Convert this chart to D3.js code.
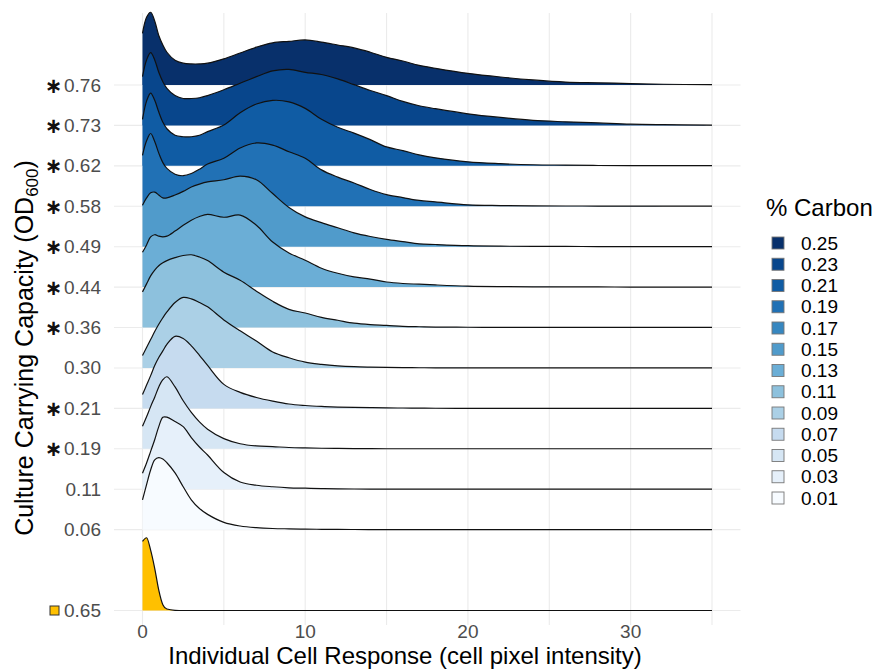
<!DOCTYPE html>
<html><head><meta charset="utf-8">
<script src="https://cdn.jsdelivr.net/npm/d3@7"></script>
<style>
body{margin:0;background:#fff}
svg{display:block}
text{font-family:"Liberation Sans",Arial,Helvetica,sans-serif}
</style>
</head><body>
<svg id="chart" width="878" height="670"></svg>
<script>
// ---------------- DATA ----------------
// sample positions of the density curves (cell pixel intensity)
const xGrid = [0,0.25,0.5,0.75,1,1.25,1.5,2,2.5,3,3.5,4,5,6,7,8,9,10,11,12,13,14,15,16,17,18,20,22,24,26,28,30,32,35];

// y categories, top to bottom ("" = empty slot)
const categories = ["0.76","0.73","0.62","0.58","0.49","0.44","0.36","0.30","0.21","0.19","0.11","0.06","","0.65"];
const significant = ["0.76","0.73","0.62","0.58","0.49","0.44","0.36","0.21","0.19"];
const controlCategory = "0.65";

// % carbon of each blue ridge (same order as categories)
const ridgeCarbon = ["0.25","0.23","0.21","0.19","0.15","0.13","0.11","0.09","0.07","0.05","0.03","0.01"];
const carbonLevels = ["0.25","0.23","0.21","0.19","0.17","0.15","0.13","0.11","0.09","0.07","0.05","0.03","0.01"];

// scaled densities (max = 1)
const d076 = [.71,.93,1.0,.88,.68,.55,.45,.34,.30,.29,.29,.30,.36,.44,.52,.58,.60,.62,.59,.55,.51,.45,.38,.33,.27,.23,.16,.11,.07,.04,.03,.02,.01,.004];
const d073 = [.67,.90,1.0,.90,.73,.60,.51,.41,.37,.37,.38,.41,.49,.58,.67,.75,.77,.73,.70,.64,.56,.48,.41,.33,.27,.23,.16,.11,.07,.05,.034,.017,.01,.004];
const d062 = [.64,.89,1.0,.90,.74,.60,.51,.42,.40,.40,.42,.47,.56,.73,.85,.90,.88,.79,.64,.53,.45,.36,.26,.21,.15,.11,.055,.03,.015,.01,.005,.004,.003,.002];
const d058 = [.70,.90,1.0,.89,.73,.60,.52,.44,.42,.45,.51,.58,.66,.80,.87,.84,.75,.66,.50,.40,.32,.23,.16,.12,.08,.06,.02,.01,.005,.004,.003,.002,.001,.001];
const d049 = [.57,.67,.74,.75,.71,.67,.67,.71,.76,.82,.86,.89,.92,.97,.92,.73,.54,.41,.33,.26,.19,.14,.10,.07,.04,.03,.014,.007,.004,.003,.002,.001,.001,.001];
const d044 = [.48,.58,.69,.72,.70,.69,.70,.77,.85,.92,.97,1.0,.96,.99,.85,.62,.47,.37,.26,.19,.14,.11,.07,.05,.04,.03,.014,.007,.004,.003,.002,.001,.001,.001];
const d036 = [.49,.60,.71,.79,.85,.89,.92,.96,.99,1.0,.97,.92,.76,.65,.50,.36,.25,.20,.14,.10,.06,.04,.03,.017,.011,.007,.004,.002,.001,.001,.001,.001,.001,.001];
const d030 = [.17,.28,.39,.50,.60,.69,.77,.90,.97,.95,.90,.84,.66,.51,.37,.22,.14,.08,.05,.03,.018,.012,.008,.005,.003,.002,.001,.001,.001,.001,.001,.001,.001,.001];
const d021 = [.19,.32,.45,.59,.70,.79,.88,.99,.96,.86,.73,.59,.33,.22,.15,.10,.06,.04,.027,.018,.013,.01,.007,.005,.003,.002,.001,.001,.001,.001,.001,.001,.001,.001];
const d019 = [.31,.44,.58,.71,.85,.95,.99,.85,.66,.50,.37,.27,.14,.07,.04,.03,.018,.012,.008,.005,.003,.002,.001,.001,.001,.001,.001,.001,.001,.001,.001,.001,.001,.001];
const d011 = [.22,.36,.52,.68,.86,.99,.99,.93,.86,.71,.58,.47,.23,.10,.055,.034,.02,.014,.008,.005,.003,.002,.001,.001,.001,.001,.001,.001,.001,.001,.001,.001,.001,.001];
const d006 = [.41,.62,.82,.96,.99,.97,.92,.78,.59,.41,.29,.21,.10,.05,.027,.016,.011,.007,.005,.003,.002,.001,.001,.001,.001,.001,.001,.001,.001,.001,.001,.001,.001,.001];
const d065 = [.95,1.0,.83,.58,.28,.08,.02,.003,0,0,0,0,0,0,0,0,0,0,0,0,0,0,0,0,0,0,0,0,0,0,0,0,0,0];

const ridgeDensities = [d076,d073,d062,d058,d049,d044,d036,d030,d021,d019,d011,d006];
const xTicks = [0,10,20,30];
const xMinor = [5,15,25,35];

// ---------------- CHART ----------------
const svg = d3.select("#chart");
const x = d3.scaleLinear().domain([0,35]).range([142.5,712]);
const y = d3.scalePoint().domain(categories).range([85,610.5]);
const step = y.step();
const h = d3.scaleLinear().domain([0,1]).range([0,1.8*step]);

const panelX0 = x(-1.75), panelX1 = x(36.75);
const panelY0 = 13, panelY1 = 625;

const blues = d3.piecewise(d3.interpolateRgb, d3.schemeBlues[9]);
const carbonColor = d3.scaleOrdinal()
  .domain(carbonLevels)
  .range(carbonLevels.map((c,i)=>blues((carbonLevels.length-1-i)/(carbonLevels.length-1))));
const controlColor = "#ffc000";

// grid
const grid = svg.append("g");
grid.selectAll("line.v").data(xTicks.concat(xMinor)).join("line")
  .attr("x1",d=>x(d)).attr("x2",d=>x(d))
  .attr("y1",panelY0).attr("y2",panelY1)
  .attr("stroke","#ebebeb").attr("stroke-width",1.1);
grid.selectAll("line.h").data(categories.filter(c=>c!=="")).join("line")
  .attr("x1",panelX0).attr("x2",panelX1)
  .attr("y1",d=>y(d)).attr("y2",d=>y(d))
  .attr("stroke","#ebebeb").attr("stroke-width",1.1);

// ridges
const ridges = categories.filter(c=>c!=="").map(c=>{
  const i = categories.indexOf(c);
  const dens = c===controlCategory ? d065 : ridgeDensities[i];
  const fill = c===controlCategory ? controlColor : carbonColor(ridgeCarbon[i]);
  return {cat:c, fill, pts: xGrid.map((xv,k)=>[xv,dens[k]])};
});

const curve = d3.curveCatmullRom.alpha(0.5);
const g = svg.append("g");
ridges.forEach(r=>{
  const base = y(r.cat);
  const cv = r.cat===controlCategory ? d3.curveMonotoneX : curve;
  const area = d3.area().curve(cv)
    .x(d=>x(d[0])).y0(base).y1(d=>base-h(d[1]));
  const line = d3.line().curve(cv)
    .x(d=>x(d[0])).y(d=>base-h(d[1]));
  g.append("path").attr("d",area(r.pts)).attr("fill",r.fill).attr("stroke","none");
  g.append("path").attr("d",line(r.pts)).attr("fill","none")
    .attr("stroke","#111").attr("stroke-width",1.2);
});

// x axis labels
svg.append("g").selectAll("text").data(xTicks).join("text")
  .attr("x",d=>x(d)).attr("y",638).attr("text-anchor","middle")
  .attr("font-size",19).attr("fill","#4d4d4d").text(d=>d);

// y axis labels
const yl = svg.append("g");
categories.filter(c=>c!=="").forEach(c=>{
  yl.append("text").attr("x",101).attr("y",y(c)+6.5).attr("text-anchor","end")
    .attr("font-size",19).attr("fill","#4d4d4d").text(c);
  if (significant.includes(c)) {
    yl.append("text").attr("x",53.5).attr("y",y(c)+7.5).attr("text-anchor","middle")
      .attr("font-size",21).attr("font-weight","bold")
      .style("font-family","'DejaVu Sans',sans-serif").attr("fill","#111").text("\u2217");
  }
  if (c===controlCategory) {
    yl.append("rect").attr("x",50).attr("y",y(c)-4.5).attr("width",9).attr("height",9)
      .attr("fill",controlColor).attr("stroke","#333").attr("stroke-width",1);
  }
});

// axis titles
svg.append("text").attr("x",405).attr("y",664).attr("text-anchor","middle")
  .attr("font-size",24).attr("fill","#000").text("Individual Cell Response (cell pixel intensity)");
const yt = svg.append("text").attr("transform","translate(33,348) rotate(-90)")
  .attr("text-anchor","middle").attr("font-size",25).attr("fill","#000");
yt.append("tspan").text("Culture Carrying Capacity (OD");
yt.append("tspan").attr("font-size",17).attr("dy",5).text("600");
yt.append("tspan").attr("dy",-5).text(")");

// legend
const lg = svg.append("g");
lg.append("text").attr("x",766).attr("y",216).attr("font-size",24).attr("fill","#000").text("% Carbon");
carbonLevels.forEach((c,i)=>{
  const cy = 243 + i*21.25;
  lg.append("rect").attr("x",772).attr("y",cy-6).attr("width",12).attr("height",12)
    .attr("fill",carbonColor(c)).attr("stroke","#777").attr("stroke-width",0.9);
  lg.append("text").attr("x",801).attr("y",cy+6.5).attr("font-size",19).attr("fill","#000").text(c);
});
</script>
</body></html>
